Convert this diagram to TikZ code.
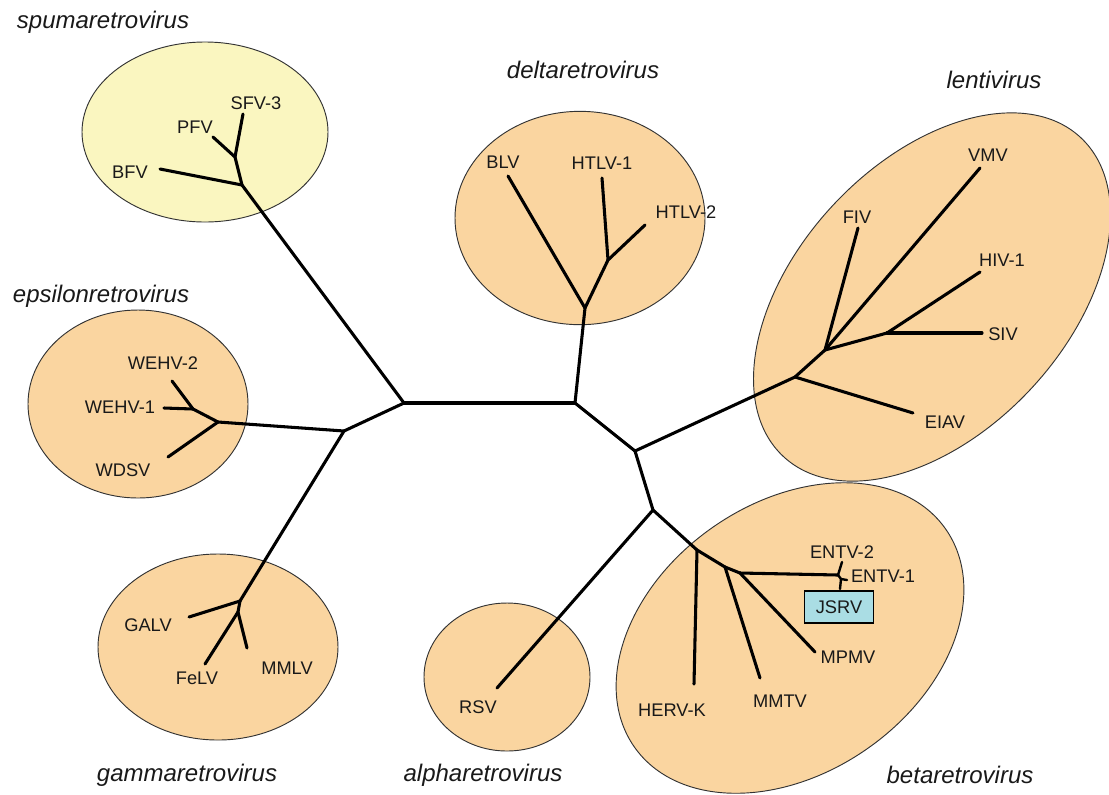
\documentclass[tikz,border=0pt]{standalone}
\usepackage{fontspec}
\setmainfont{Liberation Sans}
\definecolor{peach}{RGB}{250,213,160}
\definecolor{pale}{RGB}{250,246,192}
\definecolor{jsrvc}{RGB}{170,221,228}
\begin{document}
\begin{tikzpicture}[x=0.75pt,y=-0.75pt,
  br/.style={line width=2.3pt, line cap=round, line join=round},
  grp/.style={draw=black!80, line width=0.7pt, fill=peach},
  lab/.style={font=\fontsize{13.7}{16}\selectfont, text=black!90, inner sep=0pt},
  fam/.style={font=\fontsize{18}{21}\selectfont\itshape, text=black!90, inner sep=0pt}]
\useasboundingbox (0,0) rectangle (1109,794);

% group ellipses
\draw[grp, fill=pale] (205,132) ellipse [x radius=92.25pt, y radius=67.5pt];
\draw[grp] (580,218) ellipse [x radius=93.75pt, y radius=80pt];
\draw[grp, rotate around={47:(932,297)}] (932,297) ellipse [x radius=163.5pt, y radius=101.25pt];
\draw[grp] (138,404) ellipse [x radius=82.5pt, y radius=70.5pt];
\draw[grp] (218,647) ellipse [x radius=90pt, y radius=69.75pt];
\draw[grp] (507,677) ellipse [x radius=62.25pt, y radius=55.5pt];
\draw[grp, rotate around={35:(790,638)}] (790,638) ellipse [x radius=142.5pt, y radius=101.25pt];

% internal nodes
\coordinate (n1) at (404,403);
\coordinate (n2) at (575,403);
\coordinate (n3) at (344,431);
\coordinate (n4) at (635,451);
\coordinate (n5) at (653,510);
% spuma
\coordinate (S1) at (242,185);
\coordinate (S2) at (235,157);
\coordinate (sBFV) at (160,169);
\coordinate (sPFV) at (213,137);
\coordinate (sSFV) at (243,114);
% epsilon
\coordinate (E1) at (218,422);
\coordinate (E2) at (193,409);
\coordinate (eWDSV) at (168,457);
\coordinate (eW1) at (164,408);
\coordinate (eW2) at (172,381);
% gamma
\coordinate (G1) at (240,601);
\coordinate (G2) at (238,612);
\coordinate (gGALV) at (189,617);
\coordinate (gFeLV) at (205,664);
\coordinate (gMMLV) at (247,648);
% delta
\coordinate (D1) at (585,308);
\coordinate (D2) at (608,260);
\coordinate (dBLV) at (508,176);
\coordinate (dH1) at (602,178);
\coordinate (dH2) at (645,225);
% lenti
\coordinate (L1) at (795,377);
\coordinate (L2) at (825,350);
\coordinate (L3) at (887,333);
\coordinate (lEIAV) at (913,413);
\coordinate (lFIV) at (858,228);
\coordinate (lVMV) at (980,168);
\coordinate (lHIV) at (980,272);
\coordinate (lSIV) at (982,333);
% alpha
\coordinate (aRSV) at (497,688);
% beta
\coordinate (B1) at (697,550);
\coordinate (B2) at (725,567);
\coordinate (B3) at (740,573);
\coordinate (bHERV) at (694,684);
\coordinate (bMMTV) at (760,678);
\coordinate (bMPMV) at (815,652);
\coordinate (J) at (838,575);
\coordinate (J2) at (841,579);
\coordinate (bE2) at (842,562);
\coordinate (bE1) at (847,580);
\coordinate (bJS) at (840,589);

% branches
\draw[br] (n1) -- (n2);
\draw[br] (n1) -- (S1);
\draw[br] (n1) -- (n3);
\draw[br] (n2) -- (D1);
\draw[br] (n2) -- (n4);
\draw[br] (n4) -- (L1);
\draw[br] (n4) -- (n5);
\draw[br] (n5) -- (aRSV);
\draw[br] (n5) -- (B1);
\draw[br] (n3) -- (E1);
\draw[br] (n3) -- (G1);

\draw[br] (S1) -- (sBFV);
\draw[br] (S1) -- (S2);
\draw[br] (S2) -- (sPFV);
\draw[br] (S2) -- (sSFV);

\draw[br] (E1) -- (eWDSV);
\draw[br] (E1) -- (E2);
\draw[br] (E2) -- (eW1);
\draw[br] (E2) -- (eW2);

\draw[br] (G1) -- (gGALV);
\draw[br] (G1) -- (G2);
\draw[br] (G2) -- (gFeLV);
\draw[br] (G2) -- (gMMLV);

\draw[br] (D1) -- (dBLV);
\draw[br] (D1) -- (D2);
\draw[br] (D2) -- (dH1);
\draw[br] (D2) -- (dH2);

\draw[br] (L1) -- (lEIAV);
\draw[br] (L1) -- (L2);
\draw[br] (L2) -- (lFIV);
\draw[br] (L2) -- (lVMV);
\draw[br] (L2) -- (L3);
\draw[br] (L3) -- (lHIV);
\draw[br] (L3) -- (lSIV);

\draw[br] (B1) -- (bHERV);
\draw[br] (B1) -- (B2);
\draw[br] (B2) -- (bMMTV);
\draw[br] (B2) -- (B3);
\draw[br] (B3) -- (bMPMV);
\draw[br] (B3) -- (J);
\draw[br, line width=1.8pt] (J) -- (bE2);
\draw[br, line width=1.8pt] (J) -- (J2) -- (bE1);
\draw[br, line width=1.8pt] (J2) -- (bJS);

% leaf labels
\node[lab] (tBFV) at (130,172) {BFV};
\node[lab] (tPFV) at (195,127) {PFV};
\node[lab] (tSFV) at (256,103) {SFV-3};
\node[lab] (tW2) at (163,363) {WEHV-2};
\node[lab] (tW1) at (120,407) {WEHV-1};
\node[lab] (tWDSV) at (123,470) {WDSV};
\node[lab] (tGALV) at (148,625) {GALV};
\node[lab] (tFeLV) at (197,678) {FeLV};
\node[lab] (tMMLV) at (287,668) {MMLV};
\node[lab] (tBLV) at (503,162) {BLV};
\node[lab] (tH1) at (602,163) {HTLV-1};
\node[lab] (tH2) at (686,212) {HTLV-2};
\node[lab] (tVMV) at (988,155) {VMV};
\node[lab] (tFIV) at (857,217) {FIV};
\node[lab] (tHIV) at (1002,260) {HIV-1};
\node[lab] (tSIV) at (1003,334) {SIV};
\node[lab] (tEIAV) at (945,422) {EIAV};
\node[lab] (tRSV) at (478,707) {RSV};
\node[lab] (tHERV) at (672,710) {HERV-K};
\node[lab] (tMMTV) at (780,701) {MMTV};
\node[lab] (tMPMV) at (848,657) {MPMV};
\node[lab] (tE2) at (842,552) {ENTV-2};
\node[lab] (tE1) at (883,576) {ENTV-1};
\node[lab, draw=black, line width=0.9pt, fill=jsrvc, minimum width=51.75pt, minimum height=24pt] (tJSRV) at (839,607) {JSRV};

% family labels
\node[fam] (fspuma) at (103,22) {spumaretrovirus};
\node[fam] (fdelta) at (583,70) {deltaretrovirus};
\node[fam] (flenti) at (994,80) {lentivirus};
\node[fam] (feps) at (101,296) {epsilonretrovirus};
\node[fam] (fgamma) at (187,775) {gammaretrovirus};
\node[fam] (falpha) at (483,775) {alpharetrovirus};
\node[fam] (fbeta) at (960,775) {betaretrovirus};
\end{tikzpicture}
\end{document}
